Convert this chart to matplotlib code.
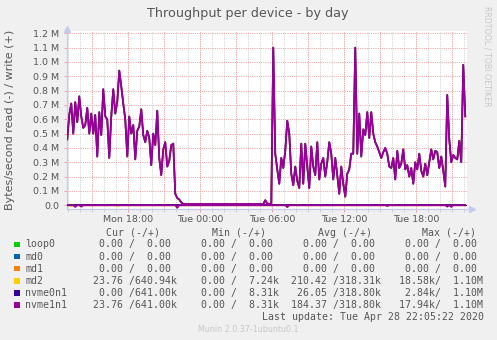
import numpy as np
import matplotlib
matplotlib.use("Agg")
import matplotlib.pyplot as plt
from matplotlib.patches import Rectangle

W, H = 497, 340

# ---------------- data ----------------
devices = ["loop0", "md0", "md1", "md2", "nvme0n1", "nvme1n1"]
colors = ["#00CC00", "#0066B3", "#FF8000", "#FFCC00", "#330099", "#990099"]

start_hour = 12 + 55 / 60      # Mon 12:55, hours counted from Mon 00:00
step_hours = 10 / 60           # one sample every 10 minutes

# write throughput of nvme1n1 in MB/s (M = 1e6 bytes/s)
write_nvme1n1 = [
    0.46, 0.63, 0.71, 0.50, 0.72, 0.58, 0.76, 0.62, 0.54, 0.56,
    0.68, 0.50, 0.64, 0.50, 0.63, 0.34, 0.65, 0.49, 0.81, 0.62,
    0.60, 0.33, 0.62, 0.81, 0.64, 0.72, 0.94, 0.83, 0.71, 0.60,
    0.34, 0.62, 0.50, 0.56, 0.32, 0.52, 0.55, 0.67, 0.49, 0.44,
    0.52, 0.47, 0.28, 0.50, 0.42, 0.66, 0.33, 0.21, 0.39, 0.44,
    0.27, 0.31, 0.42, 0.43, 0.08, 0.05, 0.04, 0.02, 0.01, 0.008,
    0.008, 0.008, 0.008, 0.008, 0.008, 0.008, 0.008, 0.008, 0.008, 0.008,
    0.008, 0.008, 0.008, 0.008, 0.008, 0.008, 0.008, 0.008, 0.008, 0.008,
    0.008, 0.008, 0.008, 0.008, 0.008, 0.008, 0.008, 0.008, 0.008, 0.008,
    0.008, 0.008, 0.008, 0.008, 0.008, 0.008, 0.008, 0.008, 0.008, 0.035,
    0.012, 0.010, 0.010, 1.10, 0.36, 0.25, 0.15, 0.33, 0.26, 0.38,
    0.59, 0.50, 0.22, 0.14, 0.27, 0.17, 0.12, 0.43, 0.15, 0.43,
    0.27, 0.12, 0.41, 0.27, 0.21, 0.44, 0.18, 0.29, 0.33, 0.20,
    0.30, 0.44, 0.36, 0.18, 0.33, 0.21, 0.08, 0.27, 0.15, 0.06,
    0.22, 0.25, 0.36, 0.36, 1.10, 0.36, 0.64, 0.34, 0.53, 0.49,
    0.65, 0.47, 0.65, 0.50, 0.44, 0.41, 0.37, 0.33, 0.37, 0.40,
    0.36, 0.27, 0.26, 0.33, 0.18, 0.38, 0.26, 0.29, 0.39, 0.25,
    0.28, 0.20, 0.26, 0.15, 0.30, 0.25, 0.36, 0.24, 0.20, 0.29,
    0.21, 0.30, 0.39, 0.32, 0.38, 0.37, 0.26, 0.34, 0.24, 0.13,
    0.77, 0.46, 0.30, 0.35, 0.33, 0.32, 0.45, 0.30, 0.98, 0.62,
]
# md2 and nvme0n1 writes are indistinguishable from nvme1n1 in the picture
write_md2 = write_nvme1n1
write_nvme0n1 = write_nvme1n1

# sparse reads (drawn negative), MB/s
read_idx_nvme1n1 = [4, 7, 55, 110, 160, 190, 192]
read_val_nvme1n1 = [-0.012, -0.010, -0.018, -0.013, -0.006, -0.010, -0.012]
read_idx_md2 = [2, 25, 55, 110]
read_val_md2 = [-0.006, -0.006, -0.018, -0.013]

y_ticks = [0.0, 0.1, 0.2, 0.3, 0.4, 0.5, 0.6, 0.7, 0.8, 0.9, 1.0, 1.1, 1.2]
y_tick_labels = ["0.0", "0.1 M", "0.2 M", "0.3 M", "0.4 M", "0.5 M", "0.6 M",
                 "0.7 M", "0.8 M", "0.9 M", "1.0 M", "1.1 M", "1.2 M"]
x_label_hours = [18, 24, 30, 36, 42]
x_labels = ["Mon 18:00", "Tue 00:00", "Tue 06:00", "Tue 12:00", "Tue 18:00"]

# legend statistics (bytes/s)
cur_read = [0, 0, 0, 23.76, 0, 23.76]
cur_write = [0, 0, 0, 640940, 641000, 641000]
min_read = [0, 0, 0, 0, 0, 0]
min_write = [0, 0, 0, 7240, 8310, 8310]
avg_read = [0, 0, 0, 210.42, 26.05, 184.37]
avg_write = [0, 0, 0, 318310, 318800, 318800]
max_read = [0, 0, 0, 18580, 2840, 17940]
max_write = [0, 0, 0, 1.10e6, 1.10e6, 1.10e6]

# ---------------- build series ----------------
n = len(write_nvme1n1)
hours = start_hour + step_hours * np.arange(n)
zeros = np.zeros(n)
read_md2 = np.zeros(n)
read_md2[read_idx_md2] = read_val_md2
read_nvme1n1 = np.zeros(n)
read_nvme1n1[read_idx_nvme1n1] = read_val_nvme1n1
writes = [zeros, zeros, zeros, np.array(write_md2), np.array(write_nvme0n1), np.array(write_nvme1n1)]
reads = [zeros, zeros, zeros, read_md2, zeros, read_nvme1n1]

# ---------------- figure ----------------
fig = plt.figure(figsize=(W / 100, H / 100), dpi=100, facecolor="#F0F0F0")
ax = fig.add_axes([66.7 / W, 1 - 208.7 / H, 400 / W, (208.7 - 31.3) / H])
ax.set_facecolor("white")

x0 = 12.87
ax.set_xlim(x0, x0 + 400 / 12)
ax.set_ylim(-0.024, 1.214)

grid_red = "#F0A0A0"
grid_gray = "#CFCFCF"
dots = (0, (1, 1.2))

# hourly gray grid, 3-hourly red grid
for h in np.arange(13, 47, 1):
    ax.axvline(h, color=grid_gray, lw=0.72, ls=dots, zorder=0.5)
for h in np.arange(15, 47, 3):
    ax.axvline(h, color=grid_red, lw=0.72, ls=dots, zorder=0.6)
for v in y_ticks[1:]:
    ax.axhline(v, color=grid_red, lw=0.72, ls=dots, zorder=0.6)

for dev_i in range(len(devices)):
    ax.plot(hours, reads[dev_i], color=colors[dev_i], lw=1.25, zorder=2 + dev_i)
    ax.plot(hours, writes[dev_i], color=colors[dev_i], lw=1.25, zorder=2 + dev_i)
ax.axhline(0, color="black", lw=0.8, zorder=1.5)

ax.set_yticks(y_ticks, y_tick_labels)
ax.set_xticks(x_label_hours, x_labels)
ax.set_xticks(np.arange(13, 47, 1), minor=True)
ax.tick_params(axis="both", which="major", labelsize=6.8, labelcolor="#555555",
               color=grid_red, length=2.2, width=0.7, pad=3.2)
ax.tick_params(axis="x", which="major", pad=2.0)
ax.tick_params(axis="x", which="minor", color=grid_gray, length=2.0, width=0.7)

axis_col = "#C2CAF2"
for s in ["top", "right"]:
    ax.spines[s].set_visible(False)
for s in ["left", "bottom"]:
    ax.spines[s].set_color(axis_col)
    ax.spines[s].set_linewidth(0.9)
# axis arrows
ax.plot([1.012], [0], marker=">", ms=5, color=axis_col, transform=ax.transAxes, clip_on=False)
ax.plot([0], [1.012], marker="^", ms=5, color=axis_col, transform=ax.transAxes, clip_on=False)

# ---------------- texts ----------------
def fx(x):
    return x / W

def fy(y):
    return 1 - y / H

fig.text(fx(248), fy(13), "Throughput per device - by day", ha="center", va="center",
         fontsize=9.2, color="#555555", family="DejaVu Sans")
fig.text(fx(10.5), fy(120), "Bytes/second read (-) / write (+)", ha="center", va="center",
         rotation=90, fontsize=8, color="#555555", family="DejaVu Sans")
fig.text(fx(487.5), fy(56), "RRDTOOL / TOBI OETIKER", ha="center", va="center",
         rotation=270, fontsize=5.7, color="#C8C8C8", family="DejaVu Sans")

mono = dict(family="DejaVu Sans Mono", fontsize=7.15, color="#555555", va="center")


def si(v):
    if v >= 1e6:
        return f"{v / 1e6:6.2f}", "M"
    if v >= 1e3:
        return f"{v / 1e3:6.2f}", "k"
    return f"{v:6.2f}", " "


def pair(r, w):
    a, ua = si(r)
    b, ub = si(w)
    return f"{a}{ua}/{b}{ub}"


col_x = [86.6, 188.6, 291.4, 393.3]
head_x = [106.2, 212.2, 317.8, 422.2]
heads = ["Cur (-/+)", "Min (-/+)", "Avg (-/+)", "Max (-/+)"]
for hx, ht in zip(head_x, heads):
    fig.text(fx(hx), fy(232.7), ht, ha="left", **mono)

row_y0, row_dy = 244.4, 12.13
for i, dev in enumerate(devices):
    y = row_y0 + i * row_dy
    fig.patches.append(Rectangle((fx(14), fy(y + 2.8)), 5.6 / W, 5.6 / H,
                                 transform=fig.transFigure, facecolor=colors[i],
                                 edgecolor="none"))
    fig.text(fx(25.3), fy(y), dev, ha="left", **mono)
    stats = [pair(cur_read[i], cur_write[i]), pair(min_read[i], min_write[i]),
             pair(avg_read[i], avg_write[i]), pair(max_read[i], max_write[i])]
    for cx, s in zip(col_x, stats):
        fig.text(fx(cx), fy(y), s, ha="left", **mono)

fig.text(fx(483.5), fy(316.8), "Last update: Tue Apr 28 22:05:22 2020", ha="right", **mono)
fig.text(fx(248), fy(329), "Munin 2.0.37-1ubuntu0.1", ha="center", va="center",
         fontsize=5.8, color="#C8C8C8", family="DejaVu Sans")

fig.savefig("out.png", dpi=100, facecolor=fig.get_facecolor())
